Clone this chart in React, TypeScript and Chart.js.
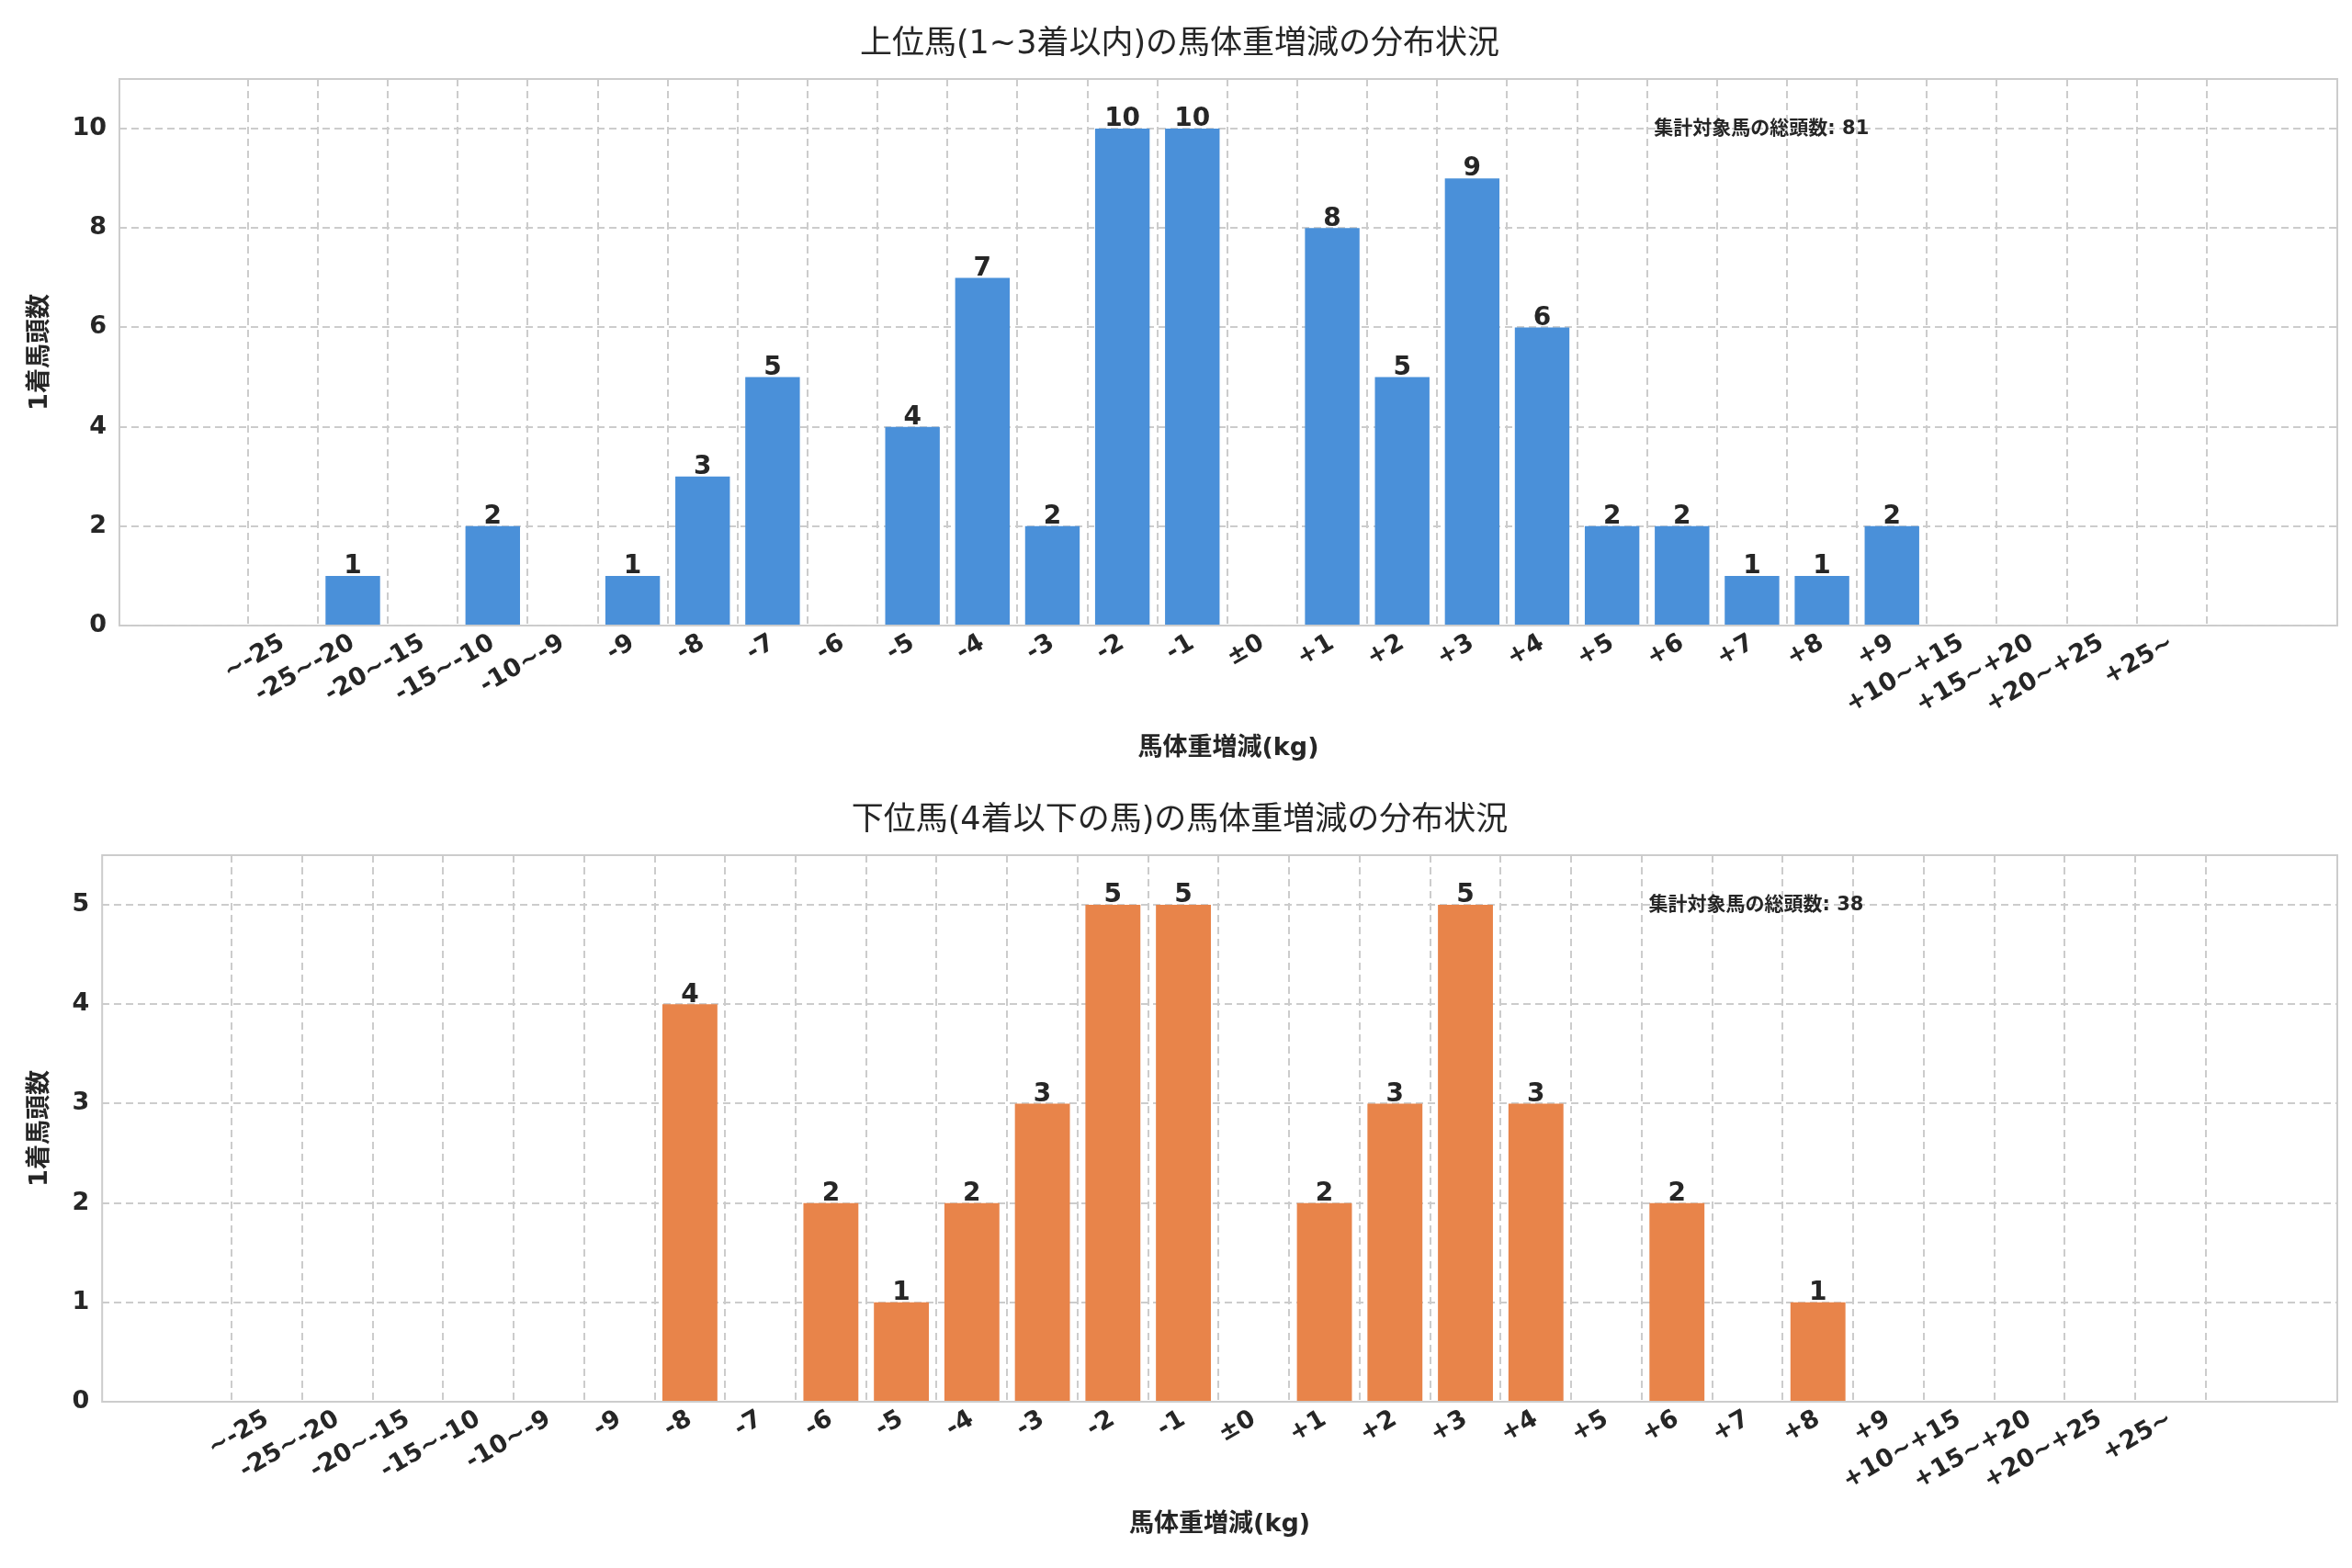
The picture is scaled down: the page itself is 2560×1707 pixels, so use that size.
import React, { useEffect, useRef } from "react";
import { Chart, registerables } from "chart.js";
Chart.register(...registerables);

const categories = ["~-25","-25~-20","-20~-15","-15~-10","-10~-9","-9","-8","-7","-6","-5","-4","-3","-2","-1","±0","+1","+2","+3","+4","+5","+6","+7","+8","+9","+10~+15","+15~+20","+20~+25","+25~"];
const topValues = [0,1,0,2,0,1,3,5,0,4,7,2,10,10,0,8,5,9,6,2,2,1,1,2,0,0,0,0];
const bottomValues = [0,0,0,0,0,0,4,0,2,1,2,3,5,5,0,2,3,5,3,0,2,0,1,0,0,0,0,0];
const topTitle = "上位馬(1~3着以内)の馬体重増減の分布状況";
const bottomTitle = "下位馬(4着以下の馬)の馬体重増減の分布状況";
const xTitle = "馬体重増減(kg)";
const yTitle = "1着馬頭数";
const notePrefix = "集計対象馬の総頭数: ";

const FONT = "'DejaVu Sans', 'Noto Sans CJK JP', sans-serif";
const TXT = "#262626";

function makeConfig(values: number[], color: string, title: string, yMax: number, yStep: number, noteY: number) {
  const total = values.reduce((a, b) => a + b, 0);
  const extras = {
    id: "extras",
    afterDatasetsDraw(chart: any) {
      const ctx = chart.ctx;
      const { left, right, top, bottom } = chart.chartArea;
      const xs = chart.scales.x, ys = chart.scales.y;
      ctx.save();
      ctx.strokeStyle = "#cccccc";
      ctx.lineWidth = 2;
      ctx.strokeRect(left, top, right - left, bottom - top);
      ctx.fillStyle = TXT;
      ctx.font = `bold 28px ${FONT}`;
      ctx.textAlign = "center";
      ctx.textBaseline = "bottom";
      values.forEach((v, i) => {
        if (v > 0) ctx.fillText(String(v), xs.getPixelForValue(i), ys.getPixelForValue(v) + 4);
      });
      ctx.font = `bold 21px ${FONT}`;
      ctx.textAlign = "left";
      ctx.textBaseline = "middle";
      ctx.fillText(notePrefix + total, xs.getPixelForValue(19.6), ys.getPixelForValue(noteY));
      ctx.restore();
    },
  };
  return {
    type: "bar",
    data: {
      datasets: [{
        data: values.map((v, i) => ({ x: i, y: v })),
        backgroundColor: color,
        barPercentage: 0.78,
        categoryPercentage: 1,
      }],
    },
    options: {
      animation: false,
      responsive: false,
      layout: { padding: { left: 24, right: 16, top: 10, bottom: 10 } },
      plugins: {
        legend: { display: false },
        tooltip: { enabled: false },
        title: { display: true, text: title, color: TXT, font: { family: FONT, size: 35, weight: "normal" }, padding: { top: 18, bottom: 16 } },
      },
      scales: {
        x: {
          type: "linear",
          min: -1.77,
          max: 28.8,
          afterBuildTicks(scale: any) {
            scale.ticks = categories.map((_, i) => ({ value: i }));
          },
          ticks: {
            autoSkip: false,
            maxRotation: 30,
            minRotation: 30,
            color: TXT,
            font: { family: FONT, size: 27, weight: "bold" },
            callback: (v: any) => categories[Math.round(v)] ?? "",
          },
          grid: { color: "#cccccc", lineWidth: 2, drawTicks: false },
          border: { display: false, dash: [8, 5] },
          title: { display: true, text: xTitle, color: TXT, font: { family: FONT, size: 27, weight: "bold" }, padding: { top: 12 } },
        },
        y: {
          min: 0,
          max: yMax,
          afterBuildTicks(scale: any) {
            const t = [];
            for (let v = 0; v <= yMax + 1e-9; v += yStep) t.push({ value: v });
            scale.ticks = t;
          },
          ticks: { color: TXT, font: { family: FONT, size: 27, weight: "bold" }, padding: 14 },
          grid: { color: "#cccccc", lineWidth: 2, drawTicks: false },
          border: { display: false, dash: [8, 5] },
          title: { display: true, text: yTitle, color: TXT, font: { family: FONT, size: 27, weight: "bold" } },
        },
      },
    },
    plugins: [extras],
  } as any;
}

function ChartCanvas({ cfg }: { cfg: any }) {
  const ref = useRef<HTMLCanvasElement>(null);
  useEffect(() => {
    const c = new Chart(ref.current!, cfg);
    return () => c.destroy();
  }, []);
  return <canvas ref={ref} width={2560} height={845} style={{ display: "block", width: 2560, height: 845 }} />;
}

export default function App() {
  useEffect(() => {
    document.body.style.margin = "0";
    document.body.style.background = "#fff";
  }, []);
  return (
    <div style={{ width: 2560, background: "#fff" }}>
      <ChartCanvas cfg={makeConfig(topValues, "#4a90d9", topTitle, 11, 2, 10)} />
      <ChartCanvas cfg={makeConfig(bottomValues, "#e8844a", bottomTitle, 5.5, 1, 5)} />
    </div>
  );
}
